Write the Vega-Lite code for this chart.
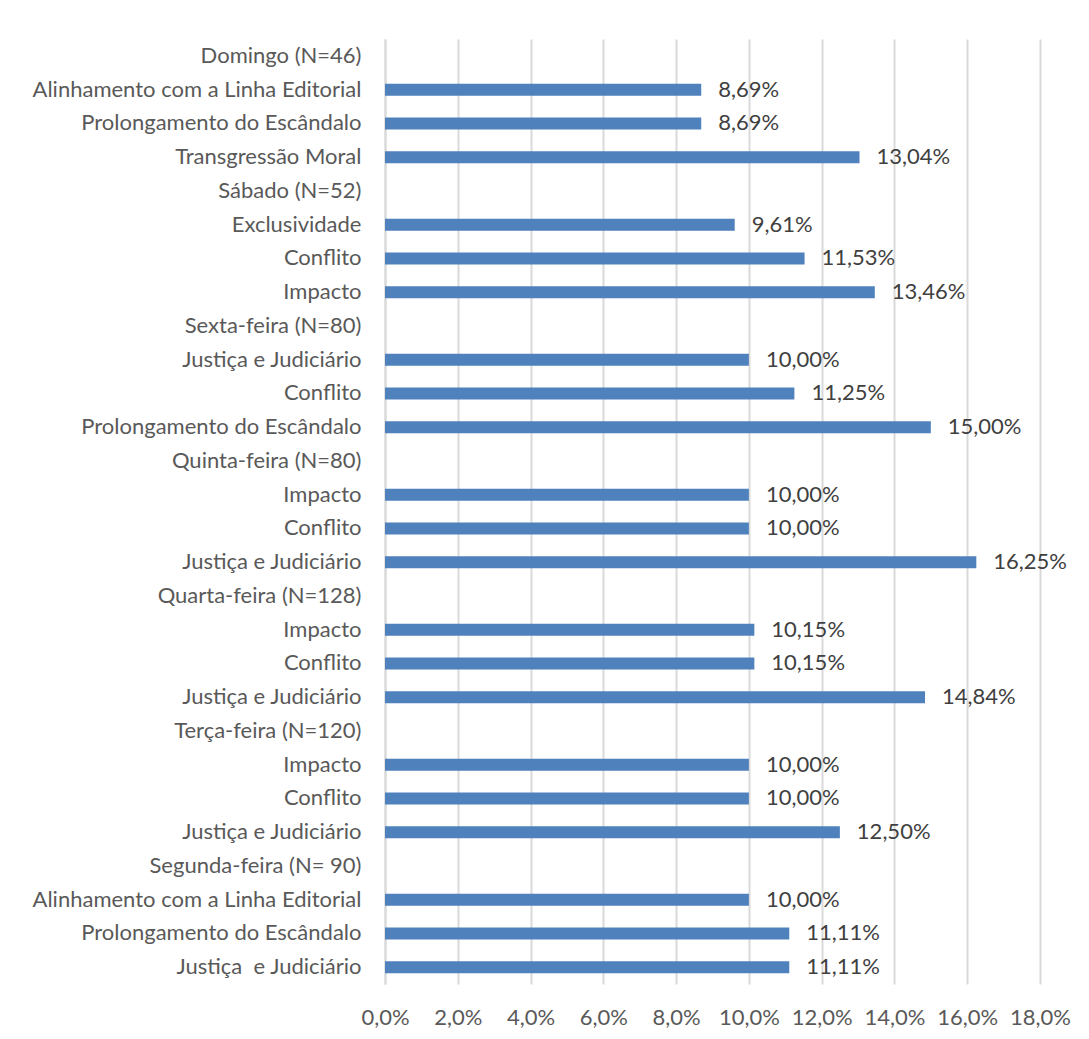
{
  "$schema": "https://vega.github.io/schema/vega-lite/v6.json",
  "width": 655,
  "height": 945,
  "autosize": "none",
  "padding": {"left": 385, "top": 39, "right": 49, "bottom": 55},
  "background": "white",
  "data": {
    "values": [
      {"id": "01|Domingo (N=46)", "v": null},
      {"id": "02|Alinhamento com a Linha Editorial", "v": 0.0869},
      {"id": "03|Prolongamento do Escândalo", "v": 0.0869},
      {"id": "04|Transgressão Moral", "v": 0.1304},
      {"id": "05|Sábado (N=52)", "v": null},
      {"id": "06|Exclusividade", "v": 0.0961},
      {"id": "07|Conflito", "v": 0.1153},
      {"id": "08|Impacto", "v": 0.1346},
      {"id": "09|Sexta-feira (N=80)", "v": null},
      {"id": "10|Justiça e Judiciário", "v": 0.10},
      {"id": "11|Conflito", "v": 0.1125},
      {"id": "12|Prolongamento do Escândalo", "v": 0.15},
      {"id": "13|Quinta-feira (N=80)", "v": null},
      {"id": "14|Impacto", "v": 0.10},
      {"id": "15|Conflito", "v": 0.10},
      {"id": "16|Justiça e Judiciário", "v": 0.1625},
      {"id": "17|Quarta-feira (N=128)", "v": null},
      {"id": "18|Impacto", "v": 0.1015},
      {"id": "19|Conflito", "v": 0.1015},
      {"id": "20|Justiça e Judiciário", "v": 0.1484},
      {"id": "21|Terça-feira (N=120)", "v": null},
      {"id": "22|Impacto", "v": 0.10},
      {"id": "23|Conflito", "v": 0.10},
      {"id": "24|Justiça e Judiciário", "v": 0.125},
      {"id": "25|Segunda-feira (N= 90)", "v": null},
      {"id": "26|Alinhamento com a Linha Editorial", "v": 0.10},
      {"id": "27|Prolongamento do Escândalo", "v": 0.1111},
      {"id": "28|Justiça\u00a0 e Judiciário", "v": 0.1111}
    ]
  },
  "encoding": {
    "y": {
      "field": "id",
      "type": "nominal",
      "sort": "ascending",
      "title": null,
      "scale": {
        "domain": [
          "01|Domingo (N=46)", "02|Alinhamento com a Linha Editorial", "03|Prolongamento do Escândalo", "04|Transgressão Moral",
          "05|Sábado (N=52)", "06|Exclusividade", "07|Conflito", "08|Impacto",
          "09|Sexta-feira (N=80)", "10|Justiça e Judiciário", "11|Conflito", "12|Prolongamento do Escândalo",
          "13|Quinta-feira (N=80)", "14|Impacto", "15|Conflito", "16|Justiça e Judiciário",
          "17|Quarta-feira (N=128)", "18|Impacto", "19|Conflito", "20|Justiça e Judiciário",
          "21|Terça-feira (N=120)", "22|Impacto", "23|Conflito", "24|Justiça e Judiciário",
          "25|Segunda-feira (N= 90)", "26|Alinhamento com a Linha Editorial", "27|Prolongamento do Escândalo", "28|Justiça\u00a0 e Judiciário"
        ]
      },
      "axis": {
        "labelExpr": "split(datum.value, '|')[1]",
        "labelFont": "Lato",
        "labelFontSize": 22,
        "labelColor": "#595959",
        "labelPadding": 24,
        "ticks": false,
        "domain": true,
        "domainColor": "#d9d9d9",
        "domainWidth": 2,
        "grid": false,
        "labelLimit": 500
      }
    },
    "x": {
      "field": "v",
      "type": "quantitative",
      "scale": {"domain": [0, 0.18], "nice": false},
      "title": null,
      "axis": {
        "values": [0, 0.02, 0.04, 0.06, 0.08, 0.1, 0.12, 0.14, 0.16, 0.18],
        "format": ".1%",
        "labelFont": "Lato",
        "labelFontSize": 22,
        "labelColor": "#595959",
        "labelPadding": 23,
        "labelOverlap": false,
        "labelFlush": false,
        "ticks": false,
        "domain": false,
        "grid": true,
        "gridColor": "#d9d9d9",
        "gridWidth": 2
      }
    }
  },
  "layer": [
    {
      "transform": [{"filter": "datum.v != null"}],
      "mark": {"type": "bar", "color": "#4f81bd", "size": 12}
    },
    {
      "transform": [{"filter": "datum.v != null"}],
      "mark": {"type": "text", "align": "left", "dx": 17, "font": "Lato", "fontSize": 22, "color": "#404040", "baseline": "middle"},
      "encoding": {
        "text": {"field": "v", "type": "quantitative", "format": ".2%"}
      }
    }
  ],
  "config": {
    "view": {"stroke": null},
    "locale": {
      "number": {"decimal": ",", "thousands": ".", "grouping": [3], "currency": ["", " €"]}
    }
  }
}
